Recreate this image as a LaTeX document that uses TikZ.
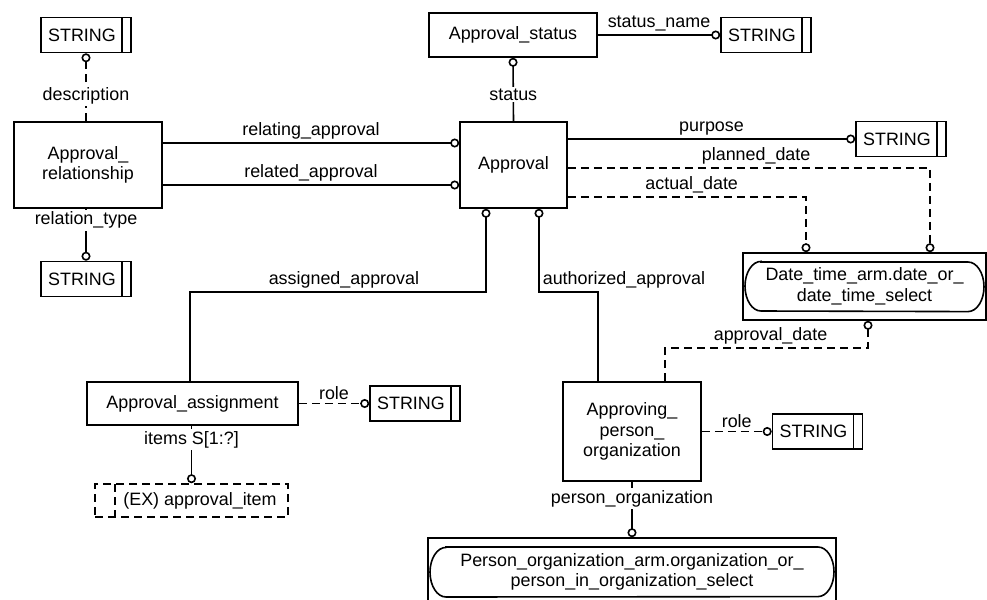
\documentclass[tikz,border=0pt]{standalone}
\usepackage{fontspec}
\setmainfont{Liberation Sans}
\usetikzlibrary{arrows.meta}

\begin{document}
\begin{tikzpicture}[x=0.5pt,y=-0.5pt,line width=0.8pt,font=\fontsize{8.95}{10.3}\selectfont]
\tikzstyle{entity} = [rectangle, draw, inner sep=0pt]
\tikzstyle{simple} = [entity, minimum width=45pt, minimum height=17.5pt, execute at end node=\kern4pt,
                      path picture={\draw ([xshift=-4.5pt]path picture bounding box.north east) -- ([xshift=-4.5pt]path picture bounding box.south east);}]
\tikzstyle{select} = [entity, align=center,
                      path picture={\draw ([shift={(9pt,-4.5pt)}]path picture bounding box.north west)
                                        -- ([shift={(-9pt,-4.5pt)}]path picture bounding box.north east)
                                        arc[start angle=90, end angle=-90, x radius=8pt, y radius=12.4pt]
                                        -- ([shift={(9pt,4.5pt)}]path picture bounding box.south west)
                                        arc[start angle=270, end angle=90, x radius=8pt, y radius=12.4pt] -- cycle;}]
\tikzstyle{extern} = [entity, dash pattern=on 4pt off 2.5pt, execute at begin node=\kern8.5pt,
                      path picture={\draw[dash pattern=on 4pt off 2.5pt] ([xshift=10pt]path picture bounding box.north west) -- ([xshift=10pt]path picture bounding box.south west);}]
\tikzstyle{attr} = [-{Circle[open,length=4.5pt,width=4.5pt]}]
\tikzstyle{opt} = [attr, dash pattern=on 4pt off 2.5pt]
\tikzstyle{lbl} = [fill=white, inner sep=1pt]
\tikzstyle{tag} = [inner sep=1.5pt]

\useasboundingbox (0,0) rectangle (987,600);

\node[simple] (str1) at (86,35) {STRING};
\node[entity, align=center, minimum width=74pt, minimum height=43pt] (rel) at (88,165) {Approval\_\\relationship};
\node[simple] (str2) at (86,279) {STRING};
\node[entity, minimum width=84pt, minimum height=22pt] (stat) at (513,35) {Approval\_status};
\node[simple] (str3) at (766,35) {STRING};
\node[entity, minimum width=53.5pt, minimum height=43pt] (appr) at (513.5,165) {Approval};
\node[simple] (str4) at (901,139) {STRING};
\node[select, minimum width=121.5pt, minimum height=33.5pt] (dt) at (864.5,286.5) {Date\_time\_arm.date\_or\_\\date\_time\_select};
\node[entity, minimum width=105.5pt, minimum height=21.5pt] (asg) at (192.5,403.5) {Approval\_assignment};
\node[simple] (str5) at (415,403.5) {STRING};
\node[extern, minimum width=96.5pt, minimum height=16.5pt] (item) at (191.5,500.5) {(EX) approval\_item};
\node[entity, align=center, minimum width=69pt, minimum height=49.5pt] (apo) at (632,431.5) {Approving\_\\person\_\\organization};
\node[simple] (str6) at (817.5,431.5) {STRING};
\node[select, minimum width=204pt, minimum height=34pt] (po) at (632,572) {Person\_organization\_arm.organization\_or\_\\person\_in\_organization\_select};

% Approval_relationship
\draw[opt] (str1.south |- rel.north) -- node[lbl, pos=0.38]{description} (str1.south);
\draw[attr] (str2.north |- rel.south) -- node[lbl, pos=0.22]{relation\_type} (str2.north);
\draw[attr] ([yshift=11pt]rel.east) -- node[tag, above]{relating\_approval} ([yshift=11pt]appr.west);
\draw[attr] ([yshift=-10pt]rel.east) -- node[tag, above]{related\_approval} ([yshift=-10pt]appr.west);

% Approval
\draw[attr] (appr.north) -- node[lbl, pos=0.42]{status} (stat.south);
\draw[attr] (stat.east) -- node[tag, above]{status\_name} (str3.west);
\draw[attr] ([yshift=13pt]appr.east) -- node[tag, above]{purpose} (str4.west);
\draw[opt] ([yshift=-1.5pt]appr.east) -| node[tag, above, pos=0.26]{planned\_date} ([xshift=32.75pt]dt.north);
\draw[opt] ([yshift=-16pt]appr.east) -| node[tag, above, pos=0.26]{actual\_date} ([xshift=-29.25pt]dt.north);

% Approval_assignment
\draw[attr] ([xshift=-1.25pt]asg.north) -- ++(0,-89) -| node[tag, above, pos=0.26]{assigned\_approval} ([xshift=-13.75pt]appr.south);
\draw[opt] (asg.east) -- node[tag, above]{role} (str5.west);
\draw[attr] (item.north |- asg.south) -- node[lbl, pos=0.24]{items S[1:?]} (item.north);

% Approving_person_organization
\draw[attr] ([xshift=-17pt]apo.north) -- ++(0,-89) -| node[tag, above right, pos=0.5]{authorized\_approval} ([xshift=12.75pt]appr.south);
\draw[opt] ([xshift=16.5pt]apo.north) -- ++(0,-33) -| node[tag, above, pos=0.26]{approval\_date} ([xshift=1.75pt]dt.south);
\draw[opt] (apo.east) -- node[tag, above]{role} (str6.west);
\draw[attr] (apo.south) -- node[lbl, pos=0.3]{person\_organization} (po.north);
\end{tikzpicture}
\end{document}
